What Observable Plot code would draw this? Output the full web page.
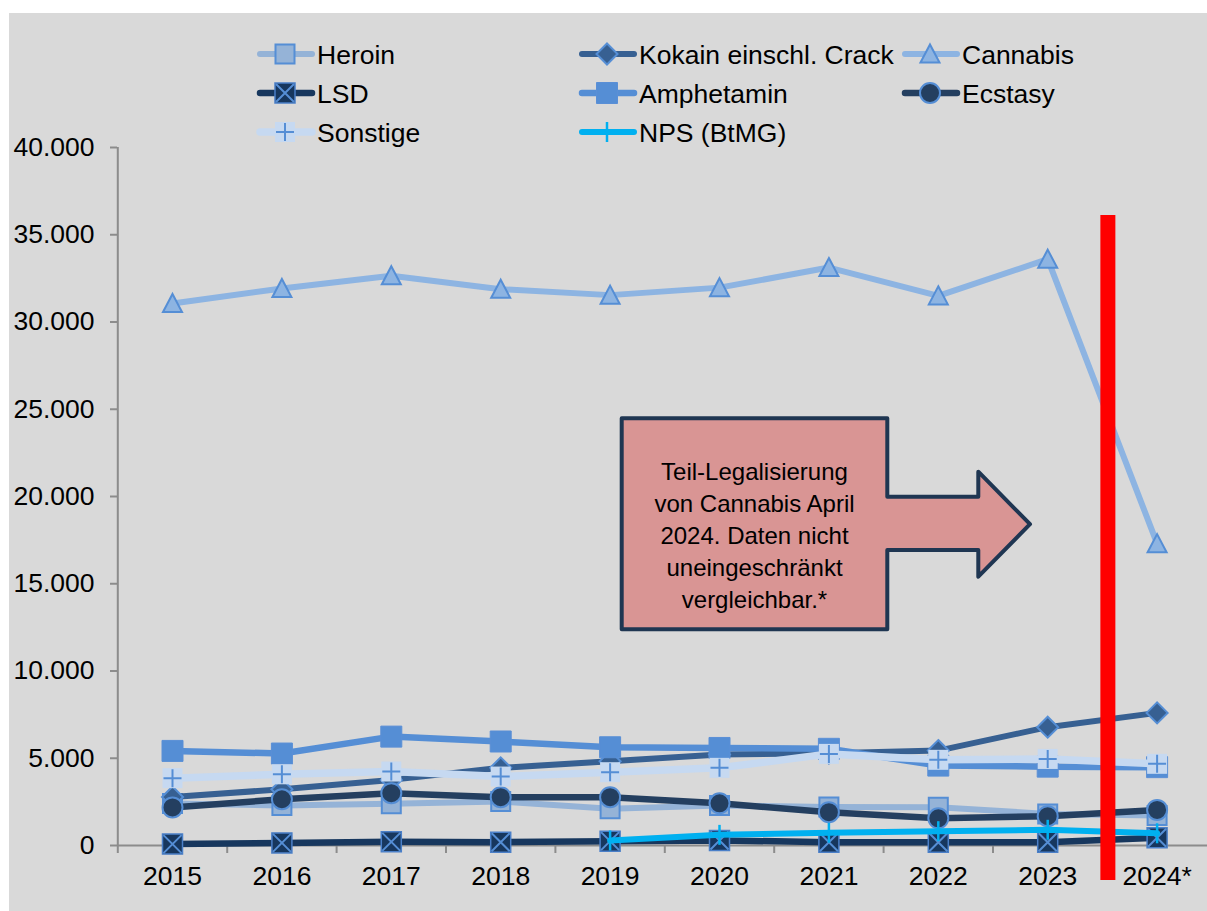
<!DOCTYPE html>
<html><head><meta charset="utf-8">
<script src="https://cdn.jsdelivr.net/npm/d3@7"></script>
<script src="https://cdn.jsdelivr.net/npm/@observablehq/plot@0.6"></script>
<style>
html,body{margin:0;padding:0;background:#fff;}
#wrap{position:relative;width:1207px;height:911px;overflow:hidden;font-family:"Liberation Sans",Arial,sans-serif;}
#bg{position:absolute;left:9px;top:13px;width:1198px;height:898px;background:#d9d9d9;}
#chart{position:absolute;left:0;top:0;}
#overlay{position:absolute;left:0;top:0;pointer-events:none;}
</style></head><body>
<div id="wrap"><div id="bg"></div><div id="chart"></div><svg id="overlay" width="1207" height="911"></svg></div>
<script>
// ---- data ----
const years = [2015, 2016, 2017, 2018, 2019, 2020, 2021, 2022, 2023, 2024];
const yearLabels = ["2015", "2016", "2017", "2018", "2019", "2020", "2021", "2022", "2023", "2024*"];
const yTicks = [0, 5000, 10000, 15000, 20000, 25000, 30000, 35000, 40000];
const yTickLabels = ["0", "5.000", "10.000", "15.000", "20.000", "25.000", "30.000", "35.000", "40.000"];

const heroin     = [2400, 2290, 2390, 2520, 2100, 2290, 2210, 2190, 1810, 1720];
const kokain     = [2780, 3220, 3760, 4450, 4830, 5210, 5290, 5440, 6780, 7600];
const cannabis   = [31060, 31920, 32650, 31880, 31540, 31970, 33120, 31500, 33600, 17300];
const lsd        = [80, 150, 210, 190, 250, 290, 190, 190, 190, 440];
const amphetamin = [5420, 5270, 6240, 5960, 5630, 5590, 5540, 4580, 4520, 4490];
const ecstasy    = [2180, 2650, 3000, 2770, 2770, 2420, 1910, 1560, 1680, 2040];
const sonstige   = [3860, 4080, 4240, 3950, 4200, 4450, 5250, 4910, 4960, 4680];
const nps        = [null, null, null, null, 290, 610, 730, 820, 900, 700];

const seriesNames = ["Heroin", "Kokain einschl. Crack", "Cannabis", "LSD", "Amphetamin", "Ecstasy", "Sonstige", "NPS (BtMG)"];
const seriesValues = [heroin, kokain, cannabis, lsd, amphetamin, ecstasy, sonstige, nps];

const annotationYear = 2023.55;          // red separator between 2023 and 2024
const annotationSpan = [36100, -2000];
const calloutLines = ["Teil-Legalisierung", "von Cannabis April", "2024. Daten nicht", "uneingeschränkt", "vergleichbar.*"];

// ---- symbols ----
const hs = s => Math.sqrt(s / Math.PI);
const symSquare = {draw(c, s) { const r = hs(s); c.moveTo(-r, -r); c.lineTo(r, -r); c.lineTo(r, r); c.lineTo(-r, r); c.closePath(); }};
const symTimes = {draw(c, s) { const r = hs(s); c.moveTo(-r, -r); c.lineTo(r, r); c.moveTo(-r, r); c.lineTo(r, -r); }};
const symPlus = {draw(c, s) { const r = hs(s); c.moveTo(-r, 0); c.lineTo(r, 0); c.moveTo(0, -r); c.lineTo(0, r); }};
const symDiamond = {draw(c, s) { const r = hs(s); c.moveTo(0, -r); c.lineTo(r, 0); c.lineTo(0, r); c.lineTo(-r, 0); c.closePath(); }};
const symTriangle = {draw(c, s) { const r = hs(s); c.moveTo(0, -r); c.lineTo(r, r * 0.9); c.lineTo(-r, r * 0.9); c.closePath(); }};
const symCircle = {draw(c, s) { const r = hs(s); c.moveTo(r, 0); c.arc(0, 0, r, 0, 2 * Math.PI); }};
const symBar = {draw(c, s) { const r = hs(s); c.moveTo(0, -r); c.lineTo(0, r); }};

// styles per series (same order as seriesNames)
const styles = [
  {line: "#95b3d7", w: 6, markers: [{symbol: symSquare, r: 9.5, fill: "#95b3d7", stroke: "#558ed5", sw: 2}]},
  {line: "#376092", w: 6, markers: [{symbol: symDiamond, r: 10.5, fill: "#376092", stroke: "#558ed5", sw: 2}]},
  {line: "#8db4e2", w: 6, markers: [{symbol: symTriangle, r: 9.5, fill: "#8db4e2", stroke: "#558ed5", sw: 2}]},
  {line: "#17375e", w: 6.5, markers: [{symbol: symSquare, r: 10, fill: "#17375e", stroke: "#4a7fc8", sw: 1.5}, {symbol: symTimes, r: 9, fill: "none", stroke: "#558ed5", sw: 2}]},
  {line: "#558ed5", w: 6.5, markers: [{symbol: symSquare, r: 10.5, fill: "#558ed5", stroke: "#5a8fd6", sw: 1}]},
  {line: "#243f60", w: 6.5, markers: [{symbol: symCircle, r: 10, fill: "#243f60", stroke: "#558ed5", sw: 2}]},
  {line: "#c6d9f1", w: 7.5, markers: [{symbol: symSquare, r: 10, fill: "#c6d9f1", stroke: "none", sw: 0}, {symbol: symPlus, r: 9, fill: "none", stroke: "#558ed5", sw: 2}]},
  {line: "#00b0f0", w: 6, markers: [{symbol: symBar, r: 10, fill: "none", stroke: "#00b0f0", sw: 2.5}]}
];

// ---- rows ----
const rows = [];
seriesNames.forEach((name, k) => {
  seriesValues[k].forEach((v, i) => { if (v != null) rows.push({series: name, year: years[i], value: v}); });
});

const halfTicks = [years[0] - 0.5, ...years.map(y => y + 0.5)];
const FS = 26.5;

const marks = [];
// axes
marks.push(Plot.axisY(yTicks, {tickSize: 7, tickPadding: 16, tickFormat: d => yTickLabels[yTicks.indexOf(d)], stroke: "#8c8c8c", strokeWidth: 2, fill: "#000", fontSize: FS, label: null}));
marks.push(Plot.axisX(years, {tickSize: 0, tickPadding: 21, tickFormat: d => yearLabels[years.indexOf(d)], fill: "#000", fontSize: FS, label: null}));
marks.push(Plot.axisX(halfTicks, {tickSize: 8, tickFormat: () => "", stroke: "#8c8c8c", strokeWidth: 2, label: null}));
marks.push(Plot.ruleX([years[0] - 0.5], {y1: yTicks[yTicks.length - 1], y2: 0, stroke: "#8c8c8c", strokeWidth: 2}));
marks.push(Plot.ruleY([0], {stroke: "#8c8c8c", strokeWidth: 2}));

seriesNames.forEach((name, k) => {
  const st = styles[k];
  const data = rows.filter(d => d.series === name);
  marks.push(Plot.line(data, {x: "year", y: "value", stroke: st.line, strokeWidth: st.w, strokeLinejoin: "round", strokeLinecap: "round"}));
  st.markers.forEach(m => {
    marks.push(Plot.dot(data, {x: "year", y: "value", symbol: m.symbol, r: m.r, fill: m.fill, stroke: m.stroke, strokeWidth: m.sw}));
  });
});

marks.push(Plot.ruleX([annotationYear], {y1: annotationSpan[0], y2: annotationSpan[1], stroke: "#ff0000", strokeWidth: 15}));

const chart = Plot.plot({
  width: 1207, height: 911,
  marginLeft: 117, marginTop: 147, marginBottom: 66, marginRight: 0,
  style: {background: "transparent", fontFamily: "'Liberation Sans', Arial, sans-serif", fontSize: FS + "px", overflow: "visible", color: "#000"},
  x: {type: "linear", domain: [years[0] - 0.5, years[years.length - 1] + 0.5], range: [117.3, 1211.3]},
  y: {domain: [0, 40000], range: [845, 147]},
  marks
});
document.getElementById("chart").appendChild(chart);

// ---- overlay: legend + callout ----
const ov = d3.select("#overlay");
const legCols = [258, 580, 903], legRows = [54, 93, 132];
seriesNames.forEach((name, k) => {
  const st = styles[k];
  const x0 = legCols[k % 3], y0 = legRows[Math.floor(k / 3)];
  const g = ov.append("g");
  g.append("line").attr("x1", x0 + 2).attr("x2", x0 + 54).attr("y1", y0).attr("y2", y0)
    .attr("stroke", st.line).attr("stroke-width", st.w).attr("stroke-linecap", "round");
  st.markers.forEach(m => {
    g.append("path").attr("transform", `translate(${x0 + 27},${y0})`)
      .attr("d", d3.symbol(m.symbol, m.r * m.r * Math.PI)())
      .attr("fill", m.fill).attr("stroke", m.stroke).attr("stroke-width", m.sw);
  });
  g.append("text").attr("x", x0 + 59).attr("y", y0 + 9.5).attr("font-size", FS)
    .attr("font-family", "'Liberation Sans', Arial, sans-serif").attr("fill", "#000").text(name);
});

// callout arrow
const box = {l: 621.7, t: 418.3, r: 887.3, b: 629.3, st: 496.7, sb: 550, hx: 978.3, ht: 471.7, hb: 576.7, tip: 1030};
const tipY = (box.ht + box.hb) / 2;
ov.append("path")
  .attr("d", `M${box.l},${box.t}H${box.r}V${box.st}H${box.hx}V${box.ht}L${box.tip},${tipY}L${box.hx},${box.hb}V${box.sb}H${box.r}V${box.b}H${box.l}Z`)
  .attr("fill", "#d99594").attr("stroke", "#1f3652").attr("stroke-width", 4).attr("stroke-linejoin", "round");
calloutLines.forEach((t, i) => {
  ov.append("text").attr("x", (box.l + box.r) / 2).attr("y", 480 + i * 32)
    .attr("text-anchor", "middle").attr("font-size", 24)
    .attr("font-family", "'Liberation Sans', Arial, sans-serif").attr("fill", "#000").text(t);
});
</script>
</body></html>
